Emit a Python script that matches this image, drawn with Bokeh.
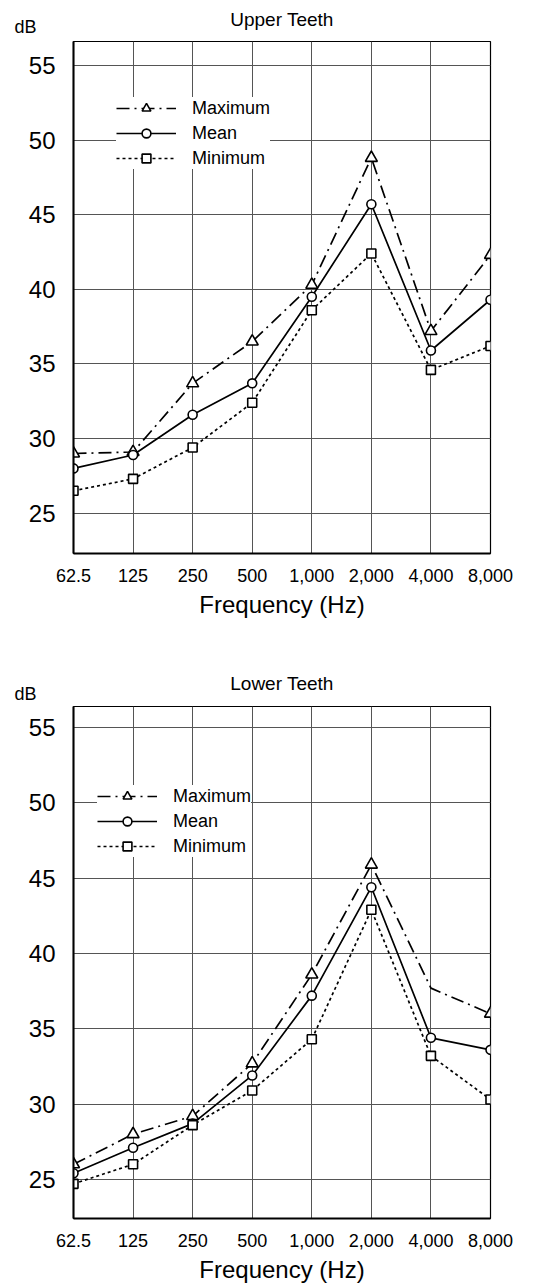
import math
from bokeh.plotting import figure
from bokeh.models import (Range1d, FixedTicker, Legend, LegendItem, Title,
                          ColumnDataSource)
from bokeh.layouts import column
from bokeh.embed import file_html
from bokeh.resources import INLINE

# ---------------- data ----------------
freq_labels = ["62.5", "125", "250", "500", "1,000", "2,000", "4,000", "8,000"]
y_ticks = [25, 30, 35, 40, 45, 50, 55]

upper_max = [29.0, 29.1, 33.7, 36.5, 40.3, 48.8, 37.2, 42.3]
upper_mean = [28.0, 28.9, 31.6, 33.7, 39.5, 45.7, 35.9, 39.3]
upper_min = [26.5, 27.3, 29.4, 32.4, 38.6, 42.4, 34.6, 36.2]

lower_max = [26.0, 28.0, 29.2, 32.7, 38.6, 45.9, 37.7, 36.0]
lower_max_marked = [1, 1, 1, 1, 1, 1, 0, 1]
lower_mean = [25.4, 27.1, 28.7, 31.9, 37.2, 44.4, 34.4, 33.6]
lower_min = [24.7, 26.0, 28.6, 30.9, 34.3, 42.9, 33.2, 30.3]

FONT = "Liberation Sans"
WIDTH = 530


def make_panel(title, maxv, meanv, minv, max_mark, height, borders, yrange,
               legend_loc, db_standoff, title_standoff):
    bl, br, bt, bb = borders
    xs = list(range(len(freq_labels)))
    p = figure(width=WIDTH, height=height, output_backend="svg",
               toolbar_location=None, x_range=Range1d(0, len(xs) - 1),
               y_range=Range1d(*yrange), min_border_left=bl,
               min_border_right=br, min_border_top=bt, min_border_bottom=bb)
    p.background_fill_color = "white"
    p.border_fill_color = "white"
    p.outline_line_color = "black"
    p.outline_line_width = 1.2

    p.title.text = title
    p.title.align = "center"
    p.title.text_font = FONT
    p.title.text_font_size = "19px"
    p.title.text_font_style = "normal"
    p.title.text_color = "black"
    p.title.standoff = title_standoff

    # unit label "dB" above the top-left corner of the frame
    p.add_layout(Title(text="dB", align="left", offset=-59, standoff=db_standoff,
                       text_font=FONT, text_font_size="18px",
                       text_font_style="normal", text_color="black"), "above")

    # axes
    p.xaxis.ticker = FixedTicker(ticks=xs)
    p.xaxis.major_label_overrides = {i: s for i, s in zip(xs, freq_labels)}
    p.xaxis.axis_label = "Frequency (Hz)"
    p.xaxis.axis_label_text_font = FONT
    p.xaxis.axis_label_text_font_size = "24px"
    p.xaxis.axis_label_text_font_style = "normal"
    p.xaxis.axis_label_standoff = 6
    p.xaxis.major_label_text_font = FONT
    p.xaxis.major_label_text_font_size = "18px"
    p.xaxis.major_label_standoff = 9
    p.yaxis.ticker = FixedTicker(ticks=y_ticks)
    p.yaxis.major_label_text_font = FONT
    p.yaxis.major_label_text_font_size = "24px"
    p.yaxis.major_label_standoff = 12
    for ax in (p.xaxis, p.yaxis):
        ax.axis_line_color = "black"
        ax.axis_line_width = 2
        ax.major_tick_line_color = None
        ax.minor_tick_line_color = None
        ax.major_label_text_color = "black"
        ax.axis_label_text_color = "black"

    p.xgrid.ticker = FixedTicker(ticks=xs)
    p.ygrid.ticker = FixedTicker(ticks=y_ticks)
    for g in (p.xgrid, p.ygrid):
        g.grid_line_color = "#555555"
        g.grid_line_width = 1

    # series
    max_pts = [v if m else math.nan for v, m in zip(maxv, max_mark)]
    src = ColumnDataSource(dict(x=xs, mx=maxv, mxp=max_pts, me=meanv, mi=minv))
    lw = 1.7
    l_max = p.line("x", "mx", source=src, line_color="black", line_width=lw,
                   line_dash="13 5 2 5")
    l_mean = p.line("x", "me", source=src, line_color="black", line_width=lw)
    l_min = p.line("x", "mi", source=src, line_color="black", line_width=lw,
                   line_dash="3 3")
    s_max = p.scatter("x", "mxp", source=src, marker="triangle", size=12,
                      fill_color="white", line_color="black", line_width=1.6)
    s_mean = p.scatter("x", "me", source=src, marker="circle", size=9,
                       fill_color="white", line_color="black", line_width=1.6)
    s_min = p.scatter("x", "mi", source=src, marker="square", size=9,
                      fill_color="white", line_color="black", line_width=1.6)

    legend = Legend(items=[
        LegendItem(label="Maximum", renderers=[l_max, s_max]),
        LegendItem(label="Mean", renderers=[l_mean, s_mean]),
        LegendItem(label="Minimum", renderers=[l_min, s_min]),
    ], location=legend_loc)
    legend.label_text_font = FONT
    legend.label_text_font_size = "18px"
    legend.label_text_color = "black"
    legend.glyph_width = 60
    legend.glyph_height = 22
    legend.label_height = 22
    legend.label_standoff = 16
    legend.spacing = 3
    legend.padding = 6
    legend.margin = 0
    legend.border_line_color = None
    legend.background_fill_color = "white"
    legend.background_fill_alpha = 1.0
    p.add_layout(legend, "center")
    return p


p1 = make_panel("Upper Teeth", upper_max, upper_mean, upper_min,
                [1] * len(upper_max), 644, (72, 40, 41, 91), (22.3, 56.6),
                (43, 384), 10, -41)
p2 = make_panel("Lower Teeth", lower_max, lower_mean, lower_min,
                lower_max_marked, 642, (73, 39, 62, 68), (22.4, 56.4),
                (24, 361), 6, -30)

layout = column(p1, p2)
open("out.html", "w").write(file_html(layout, INLINE))
